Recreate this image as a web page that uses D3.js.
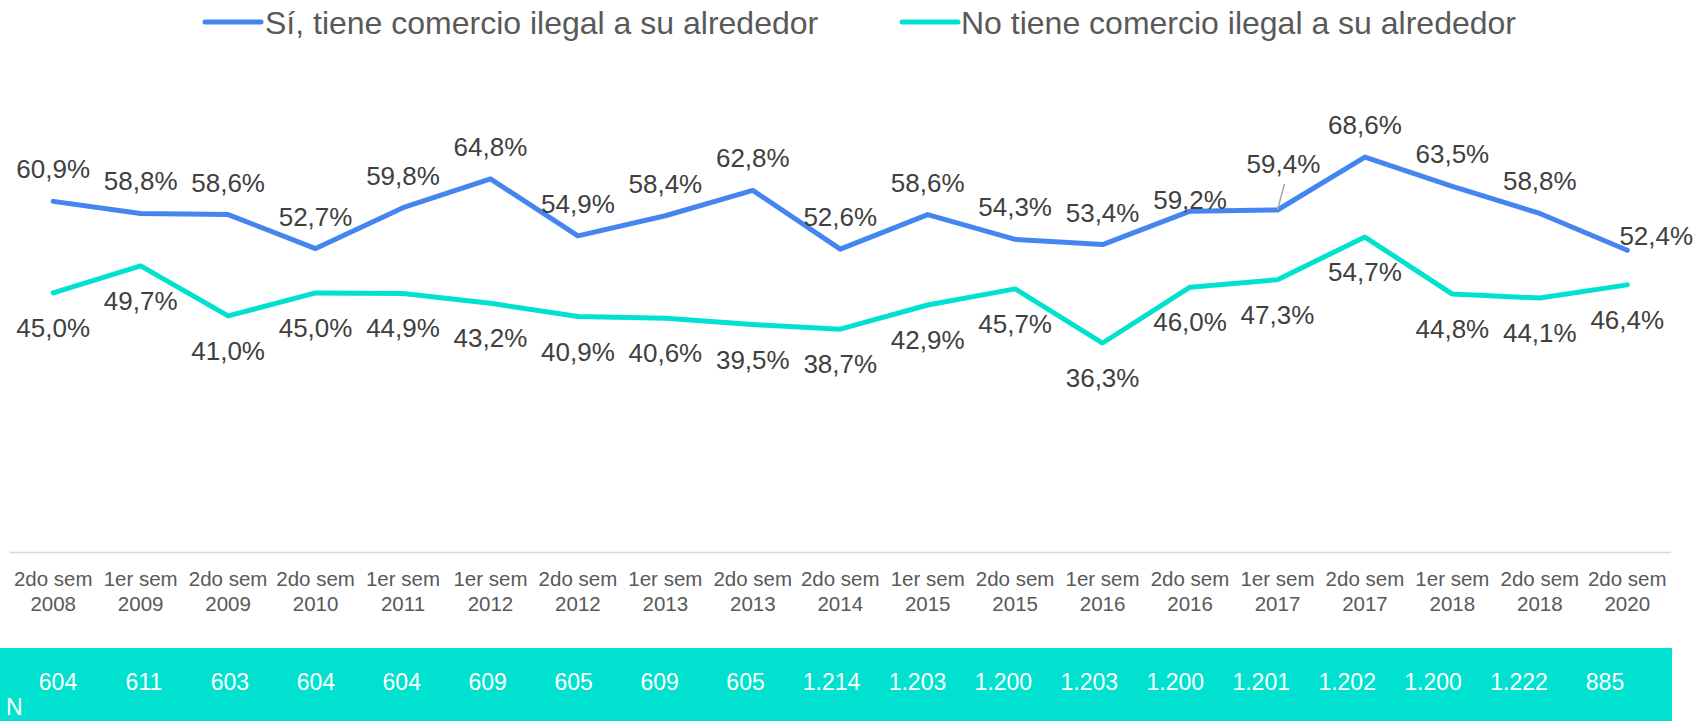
<!DOCTYPE html>
<html>
<head>
<meta charset="utf-8">
<script src="https://cdn.jsdelivr.net/npm/d3@7"></script>
<style>
  html, body { margin: 0; padding: 0; background: #fff; }
  svg { display: block; font-family: "Liberation Sans", Arial, sans-serif; }
</style>
</head>
<body>
<svg id="chart" width="1698" height="721"></svg>
<script>
// ---- data ----
const categories = [
  "2do sem 2008", "1er sem 2009", "2do sem 2009", "2do sem 2010", "1er sem 2011",
  "1er sem 2012", "2do sem 2012", "1er sem 2013", "2do sem 2013", "2do sem 2014",
  "1er sem 2015", "2do sem 2015", "1er sem 2016", "2do sem 2016", "1er sem 2017",
  "2do sem 2017", "1er sem 2018", "2do sem 2018", "2do sem 2020"
];
const siValues = [60.9, 58.8, 58.6, 52.7, 59.8, 64.8, 54.9, 58.4, 62.8, 52.6,
                  58.6, 54.3, 53.4, 59.2, 59.4, 68.6, 63.5, 58.8, 52.4];
const noValues = [45.0, 49.7, 41.0, 45.0, 44.9, 43.2, 40.9, 40.6, 39.5, 38.7,
                  42.9, 45.7, 36.3, 46.0, 47.3, 54.7, 44.8, 44.1, 46.4];
const nValues = ["604", "611", "603", "604", "604", "609", "605", "609", "605", "1.214",
                 "1.203", "1.200", "1.203", "1.200", "1.201", "1.202", "1.200", "1.222", "885"];
const seriesNames = ["Sí, tiene comercio ilegal a su alrededor", "No tiene comercio ilegal a su alrededor"];

// ---- styles ----
const BLUE = "#4585f0";
const TEAL = "#00e2cf";
const LABEL = "#404040";
const AXIS_TXT = "#595959";

const svg = d3.select("#chart");

const x = d3.scalePoint().domain(categories).range([9.5, 1671]).padding(0.5);
const y = d3.scaleLinear().domain([0, 80]).range([552, 91.4]);
const xN = d3.scalePoint().domain(categories).range([58, 1605]);

const fmt = v => d3.format(".1f")(v).replace(".", ",") + "%";

// axis line
svg.append("line")
  .attr("x1", x.range()[0]).attr("x2", x.range()[1])
  .attr("y1", y(0) + 0.5).attr("y2", y(0) + 0.5)
  .attr("stroke", "#d9d9d9").attr("stroke-width", 1.5);

// category labels
const cat = svg.append("g").selectAll("text").data(categories).join("text")
  .attr("x", d => x(d)).attr("y", 586)
  .attr("text-anchor", "middle").attr("font-size", 20.5).attr("fill", AXIS_TXT);
cat.append("tspan").attr("x", d => x(d)).text(d => d.split(" ").slice(0, 2).join(" "));
cat.append("tspan").attr("x", d => x(d)).attr("dy", 24.5).text(d => d.split(" ")[2]);

// N band
svg.append("rect").attr("x", 0).attr("y", 648).attr("width", 1672).attr("height", 73).attr("fill", TEAL);
svg.append("g").selectAll("text").data(nValues).join("text")
  .attr("x", (d, i) => xN(categories[i])).attr("y", 690)
  .attr("text-anchor", "middle").attr("font-size", 23).attr("fill", "#fff")
  .text(d => d);
svg.append("text").attr("x", 6).attr("y", 715).attr("font-size", 23).attr("fill", "#fff").text("N");

// lines
const line = d3.line().x((d, i) => x(categories[i])).y(d => y(d));
[[noValues, TEAL], [siValues, BLUE]].forEach(([vals, col]) => {
  svg.append("path").datum(vals).attr("d", line)
    .attr("fill", "none").attr("stroke", col).attr("stroke-width", 5)
    .attr("stroke-linejoin", "round").attr("stroke-linecap", "round");
});

// leader line for 1er sem 2017 label
{
  const i = 14;
  svg.append("line")
    .attr("x1", x(categories[i])).attr("y1", y(siValues[i]))
    .attr("x2", x(categories[i]) + 7).attr("y2", y(siValues[i]) - 26)
    .attr("stroke", "#a6a6a6").attr("stroke-width", 1.5);
}

// data labels
const siSpecial = { 13: [0, -2], 14: [6, -37], 18: [29, -5] };
svg.append("g").selectAll("text").data(siValues).join("text")
  .attr("x", (d, i) => x(categories[i]) + (siSpecial[i] ? siSpecial[i][0] : 0))
  .attr("y", (d, i) => y(d) + (siSpecial[i] ? siSpecial[i][1] : -23))
  .attr("text-anchor", "middle").attr("font-size", 26).attr("fill", LABEL)
  .text(d => fmt(d));
svg.append("g").selectAll("text").data(noValues).join("text")
  .attr("x", (d, i) => x(categories[i]))
  .attr("y", d => y(d) + 44)
  .attr("text-anchor", "middle").attr("font-size", 26).attr("fill", LABEL)
  .text(d => fmt(d));

// legend
const legendX = [205, 902];
const lg = svg.append("g").selectAll("g").data(seriesNames).join("g")
  .attr("transform", (d, i) => `translate(${legendX[i]},0)`);
lg.append("line").attr("x1", 0).attr("x2", 56).attr("y1", 22).attr("y2", 22)
  .attr("stroke", (d, i) => i === 0 ? BLUE : TEAL).attr("stroke-width", 5).attr("stroke-linecap", "round");
lg.append("text").attr("x", (d, i) => i === 0 ? 60 : 59).attr("y", 34)
  .attr("font-size", 32).attr("fill", AXIS_TXT).text(d => d);
</script>
</body>
</html>
